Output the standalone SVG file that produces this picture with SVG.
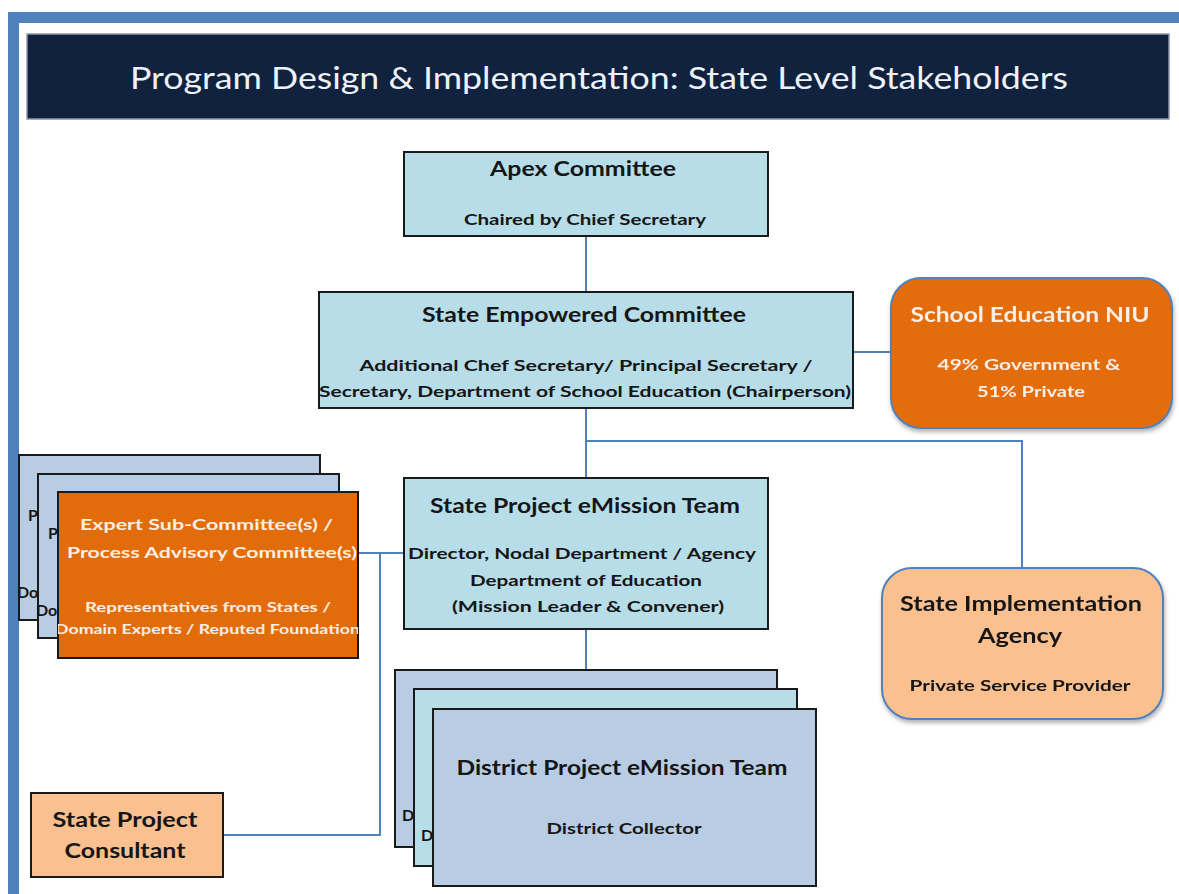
<svg xmlns="http://www.w3.org/2000/svg" width="1179" height="894" viewBox="0 0 1179 894">
<defs>
<style>
.frame{fill:#4f81bd}
.box{stroke:#1a1a1a;stroke-width:2}
.teal{fill:#b7dde8}
.steel{fill:#b8cce4}
.orange{fill:#e36c0a}
.peach{fill:#fac090}
.rbox{stroke:#4f81bd;stroke-width:2}
.conn{fill:none;stroke:#4f81bd;stroke-width:2}
text{font-family:Lato,"Open Sans","DejaVu Sans",sans-serif;font-weight:bold;text-anchor:middle}
.dk{fill:#161616}
.wt{fill:#fbeee4}
.t1{font-size:21px}
.t2{font-size:16px}
.left{text-anchor:start}
</style>
<filter id="sh" x="-10%" y="-10%" width="120%" height="125%">
<feDropShadow dx="1" dy="3" stdDeviation="2" flood-color="#000" flood-opacity="0.3"/>
</filter>
<clipPath id="ce3"><rect x="58" y="492" width="300" height="166"/></clipPath>
</defs>

<g id="frame">
<rect class="frame" x="8" y="12" width="11" height="882"/>
<rect class="frame" x="8" y="12" width="1171" height="11"/>
</g>

<g id="title">
<rect x="27" y="34" width="1142" height="85" fill="#10223d" stroke="#8d97a8" stroke-width="1.5"/>
<text x="599" y="89" font-size="31" fill="#eef2f8" textLength="938" lengthAdjust="spacingAndGlyphs" style="font-weight:normal">Program  Design &amp; Implementation:  State Level Stakeholders</text>
</g>

<g id="connectors">
<path class="conn" d="M586 236V292"/>
<path class="conn" d="M853 352H891"/>
<path class="conn" d="M586 408V478"/>
<path class="conn" d="M586 441H1022V568"/>
<path class="conn" d="M586 629V670"/>
<path class="conn" d="M358 553H404"/>
<path class="conn" d="M380 553V835H223"/>
</g>

<g id="apex-committee">
<rect class="box teal" x="404" y="152" width="364" height="84"/>
<text class="dk t1" x="583" y="176" textLength="186" lengthAdjust="spacingAndGlyphs">Apex Committee</text>
<text class="dk t2" x="585" y="225" textLength="242" lengthAdjust="spacingAndGlyphs">Chaired  by Chief Secretary</text>
</g>

<g id="state-empowered-committee">
<rect class="box teal" x="319" y="292" width="534" height="116"/>
<text class="dk t1" x="584" y="322" textLength="324" lengthAdjust="spacingAndGlyphs">State Empowered Committee</text>
<text class="dk t2" x="586" y="371" textLength="453" lengthAdjust="spacingAndGlyphs">Additional  Chef Secretary/  Principal Secretary  /</text>
<text class="dk t2" x="585" y="397" textLength="532" lengthAdjust="spacingAndGlyphs">Secretary,  Department  of School Education  (Chairperson)</text>
</g>

<g id="school-education-niu" filter="url(#sh)">
<rect class="rbox orange" x="891" y="278" width="281" height="150" rx="30"/>
<text class="wt t1" x="1030" y="322" textLength="239" lengthAdjust="spacingAndGlyphs">School Education NIU</text>
<text class="wt t2" x="1029" y="370" textLength="183" lengthAdjust="spacingAndGlyphs">49% Government &amp;</text>
<text class="wt t2" x="1031" y="397" textLength="108" lengthAdjust="spacingAndGlyphs">51% Private</text>
</g>

<g id="state-project-emission-team">
<rect class="box teal" x="404" y="478" width="364" height="151"/>
<text class="dk t1" x="585" y="513" textLength="310" lengthAdjust="spacingAndGlyphs">State Project eMission Team</text>
<text class="dk t2" x="582" y="559" textLength="348" lengthAdjust="spacingAndGlyphs">Director, Nodal  Department  / Agency</text>
<text class="dk t2" x="586" y="586" textLength="232" lengthAdjust="spacingAndGlyphs">Department  of Education</text>
<text class="dk t2" x="588" y="612" textLength="272" lengthAdjust="spacingAndGlyphs">(Mission Leader  &amp; Convener)</text>
</g>

<g id="expert-sub-committees">
<rect class="box steel" x="19" y="455" width="301" height="165"/>
<text class="dk t2 left" x="28" y="521">P</text>
<text class="dk t2 left" x="17" y="598">Do</text>
<rect class="box steel" x="38" y="474" width="301" height="164"/>
<text class="dk t2 left" x="48" y="539">P</text>
<text class="dk t2 left" x="36" y="616">Do</text>
<rect class="box orange" x="58" y="492" width="300" height="166"/>
<g clip-path="url(#ce3)">
<text class="wt t2 left" x="80" y="530" textLength="253" lengthAdjust="spacingAndGlyphs">Expert Sub-Committee(s)  /</text>
<text class="wt t2 left" x="67" y="558" textLength="290" lengthAdjust="spacingAndGlyphs">Process Advisory  Committee(s)</text>
<text class="wt left" font-size="14" x="85" y="612" textLength="246" lengthAdjust="spacingAndGlyphs">Representatives from States /</text>
<text class="wt left" font-size="14" x="55" y="634" textLength="305" lengthAdjust="spacingAndGlyphs">Domain Experts / Reputed Foundation</text>
</g>
</g>

<g id="state-implementation-agency" filter="url(#sh)">
<rect class="rbox peach" x="882" y="568" width="281" height="151" rx="30"/>
<text class="dk t1" x="1021" y="611" textLength="242" lengthAdjust="spacingAndGlyphs">State Implementation</text>
<text class="dk t1" x="1020" y="643" textLength="84" lengthAdjust="spacingAndGlyphs">Agency</text>
<text class="dk t2" x="1020" y="691" textLength="221" lengthAdjust="spacingAndGlyphs">Private Service Provider</text>
</g>

<g id="district-project-emission-team">
<rect class="box steel" x="395" y="670" width="382" height="177"/>
<text class="dk t2 left" x="402" y="821">D</text>
<rect class="box teal" x="414" y="689" width="383" height="177"/>
<text class="dk t2 left" x="421" y="841">D</text>
<rect class="box steel" x="433" y="709" width="383" height="177"/>
<text class="dk t1" x="622" y="775" textLength="331" lengthAdjust="spacingAndGlyphs">District Project eMission Team</text>
<text class="dk t2" x="624" y="834" textLength="155" lengthAdjust="spacingAndGlyphs">District  Collector</text>
</g>

<g id="state-project-consultant">
<rect class="box peach" x="31" y="793" width="192" height="84"/>
<text class="dk t1" x="125" y="827" textLength="145" lengthAdjust="spacingAndGlyphs">State Project</text>
<text class="dk t1" x="125" y="858" textLength="121" lengthAdjust="spacingAndGlyphs">Consultant</text>
</g>
</svg>
